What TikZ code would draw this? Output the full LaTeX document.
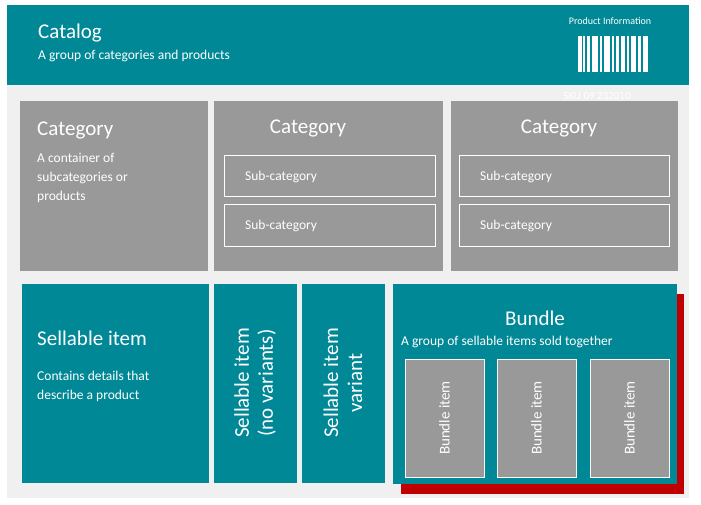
\documentclass[tikz,border=0pt]{standalone}
\usepackage{fontspec}
\setmainfont{Carlito}
\definecolor{teal1}{HTML}{008896}
\definecolor{grey1}{HTML}{999999}
\definecolor{bg}{HTML}{F0F0F0}
\definecolor{red1}{HTML}{C00000}
\begin{document}
\begin{tikzpicture}[x=1pt,y=-1pt,
  txt/.style={text=white,inner sep=0pt},
  big/.style={txt,font=\fontsize{21}{24}\selectfont},
  sm/.style={txt,font=\fontsize{13.5}{19}\selectfont},
  sub/.style={draw=white,line width=1pt,fill=grey1}]
\useasboundingbox (0,0) rectangle (701,505);
\fill[white] (0,0) rectangle (701,505);
\fill[bg] (7,85) rectangle (689,498);
\fill[teal1] (7,5) rectangle (689,85);
\node[big,anchor=west] (cat) at (38,33) {Catalog};
\node[sm,anchor=west] (catd) at (38,56) {A group of categories and products};
\node[txt,font=\fontsize{10}{12}\selectfont] (pi) at (610,21) {Product Information};
\foreach \a/\w in {578/4,583/2,587/3,592/6,600/2,604/6,612/2,616/3,621/4,627/2,631/5,638/3,643/5}
  \fill[white] (\a,36) rectangle ++(\w,36);
\node[txt,font=\fontsize{11}{12}\selectfont] (sku) at (597,96) {SKU 09 232010};
% categories
\fill[grey1] (20,101) rectangle (208,271);
\node[big,anchor=west] (c1) at (37,130) {Category};
\node[sm,anchor=north west,align=left] (c1d) at (37,153) {A container of\\subcategories or\\products};
\fill[grey1] (214,101) rectangle (443,271);
\node[big] (c2) at (308,128) {Category};
\draw[sub] (224,156) rectangle (435,197); \node[sm,anchor=west] (s1) at (245,177) {Sub-category};
\draw[sub] (224,205) rectangle (435,246); \node[sm,anchor=west] (s2) at (245,226) {Sub-category};
\fill[grey1] (451,101) rectangle (678,271);
\node[big] (c3) at (559,128) {Category};
\draw[sub] (459,156) rectangle (669,197); \node[sm,anchor=west] (s3) at (480,177) {Sub-category};
\draw[sub] (459,205) rectangle (669,246); \node[sm,anchor=west] (s4) at (480,226) {Sub-category};
% sellable
\fill[teal1] (22,284) rectangle (209,483);
\node[big,anchor=west] (si) at (37,338) {Sellable item};
\node[sm,anchor=north west,align=left] (sid) at (37,371) {Contains details that\\describe a product};
\fill[teal1] (214,284) rectangle (297,483);
\node[big,rotate=90,align=center,font=\fontsize{21}{24}\selectfont] (nv) at (255,383) {Sellable item\\(no variants)};
\fill[teal1] (302,284) rectangle (385,483);
\node[big,rotate=90,align=center,font=\fontsize{21}{24}\selectfont] (va) at (343,383) {Sellable item\\variant};
% bundle
\fill[red1] (401,294) rectangle (684,494);
\fill[teal1] (393,284) rectangle (677,484);
\node[big] (b) at (535,318) {Bundle};
\node[sm,anchor=west] (bd) at (401,342) {A group of sellable items sold together};
\foreach \x/\n in {405/b1,497/b2,590/b3}{
  \draw[sub] (\x,359) rectangle ++(79,118);
  \node[sm,rotate=90,font=\fontsize{15}{18}\selectfont] (\n) at (\x+39.5,418) {Bundle item};}
\end{tikzpicture}
\end{document}
